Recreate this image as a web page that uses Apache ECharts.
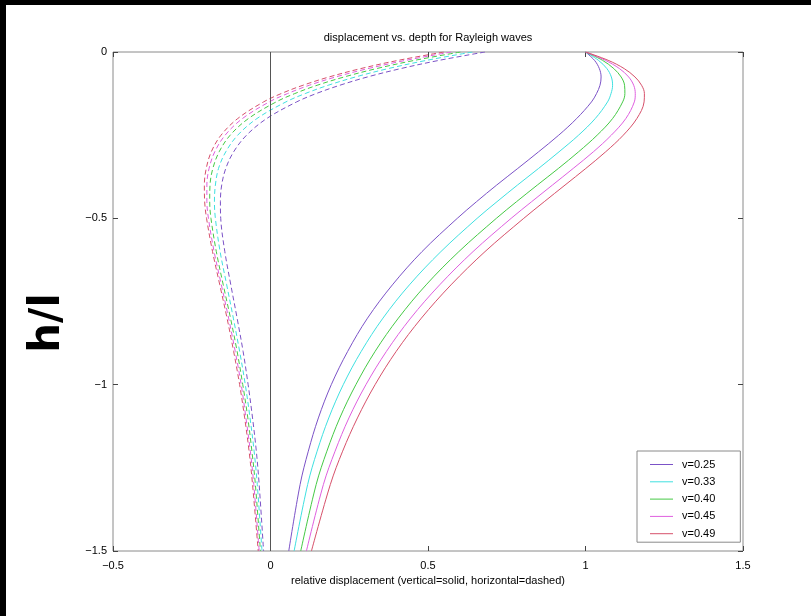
<!DOCTYPE html>
<html>
<head>
<meta charset="utf-8">
<script src="https://cdn.jsdelivr.net/npm/echarts@6/dist/echarts.min.js"></script>
<style>
  html, body { margin: 0; padding: 0; background: #000; width: 811px; height: 616px; overflow: hidden; }
  #chart { position: absolute; left: 6px; top: 5px; width: 805px; height: 611px; background: #fff; }
</style>
</head>
<body>
<div id="chart"></div>
<script>
// Depth below the surface as a fraction of wavelength (h/l), shared by every curve
const depth = [0, -0.025, -0.05, -0.075, -0.1, -0.125, -0.15, -0.2, -0.25, -0.3, -0.35, -0.4, -0.45, -0.5, -0.6, -0.7, -0.8, -0.9, -1.0, -1.1, -1.2, -1.3, -1.5];

// Poisson's ratio of each curve family
const poisson = ['v=0.25', 'v=0.33', 'v=0.40', 'v=0.45', 'v=0.49'];

// Vertical displacement (solid), normalised to 1 at the surface
const vert25 = [1, 1.0285, 1.044, 1.0495, 1.046, 1.035, 1.019, 0.972, 0.915, 0.851, 0.785, 0.718, 0.654, 0.593, 0.481, 0.387, 0.308, 0.245, 0.193, 0.152, 0.120, 0.094, 0.058];
const vert33 = [1, 1.041, 1.068, 1.082, 1.086, 1.081, 1.070, 1.031, 0.978, 0.916, 0.851, 0.784, 0.719, 0.656, 0.541, 0.441, 0.357, 0.288, 0.231, 0.185, 0.148, 0.118, 0.075];
const vert40 = [1, 1.054, 1.090, 1.113, 1.124, 1.125, 1.118, 1.086, 1.037, 0.978, 0.914, 0.847, 0.781, 0.717, 0.598, 0.494, 0.406, 0.332, 0.271, 0.220, 0.179, 0.145, 0.096];
const vert45 = [1, 1.063, 1.108, 1.137, 1.153, 1.158, 1.155, 1.128, 1.082, 1.025, 0.961, 0.895, 0.829, 0.764, 0.643, 0.537, 0.445, 0.368, 0.303, 0.249, 0.205, 0.168, 0.114];
const vert49 = [1, 1.072, 1.123, 1.157, 1.178, 1.187, 1.186, 1.163, 1.120, 1.064, 1.001, 0.935, 0.869, 0.804, 0.681, 0.573, 0.479, 0.399, 0.332, 0.276, 0.229, 0.190, 0.130];

// Horizontal displacement (dashed), same normalisation
const horiz25 = [0.681, 0.536, 0.413, 0.308, 0.220, 0.145, 0.083, -0.012, -0.076, -0.117, -0.142, -0.155, -0.159, -0.158, -0.145, -0.126, -0.106, -0.087, -0.071, -0.057, -0.045, -0.036, -0.022];
const horiz33 = [0.641, 0.496, 0.373, 0.270, 0.183, 0.110, 0.049, -0.043, -0.104, -0.142, -0.165, -0.175, -0.178, -0.175, -0.160, -0.139, -0.118, -0.098, -0.080, -0.065, -0.052, -0.042, -0.027];
const horiz40 = [0.603, 0.458, 0.336, 0.234, 0.148, 0.077, 0.018, -0.070, -0.128, -0.163, -0.183, -0.192, -0.193, -0.189, -0.172, -0.150, -0.127, -0.106, -0.088, -0.072, -0.059, -0.048, -0.032];
const horiz45 = [0.574, 0.430, 0.309, 0.207, 0.123, 0.054, -0.004, -0.089, -0.144, -0.177, -0.195, -0.202, -0.202, -0.197, -0.179, -0.156, -0.133, -0.112, -0.093, -0.078, -0.064, -0.053, -0.036];
const horiz49 = [0.550, 0.406, 0.286, 0.186, 0.103, 0.034, -0.022, -0.104, -0.157, -0.188, -0.204, -0.210, -0.209, -0.203, -0.184, -0.161, -0.138, -0.117, -0.098, -0.082, -0.068, -0.057, -0.039];

const xTicks = { min: -0.5, max: 1.5, interval: 0.5 };
const yTicks = { min: -1.5, max: 0, interval: 0.5 };

const colors = ['#7b52c7', '#3fe0e0', '#45c945', '#df5fdf', '#d6506a'];
const vertical = [vert25, vert33, vert40, vert45, vert49];
const horizontal = [horiz25, horiz33, horiz40, horiz45, horiz49];

const FONT = '"Liberation Sans", Arial, Helvetica, sans-serif';

function curve(name, values, color, dashed) {
  return {
    name: name,
    type: 'line',
    data: values.map((x, i) => [x, depth[i]]),
    smooth: 0.35,
    symbol: 'none',
    silent: true,
    lineStyle: { color: color, width: 1, type: dashed ? [5, 3] : 'solid' },
    itemStyle: { color: color }
  };
}

const series = [];
poisson.forEach((name, i) => series.push(curve(name, vertical[i], colors[i], false)));
poisson.forEach((name, i) => series.push(curve(name + ' horizontal', horizontal[i], colors[i], true)));

// zero-displacement reference line
series[0].markLine = {
  silent: true,
  symbol: ['none', 'none'],
  label: { show: false },
  lineStyle: { color: '#555', width: 1, type: 'solid' },
  data: [{ xAxis: 0 }]
};

const tickFmt = v => (v === 0 ? '0' : String(v).replace('-', '\u2212'));

const frameAxisCommon = {
  type: 'value',
  axisLine: { show: false, onZero: false },
  splitLine: { show: false },
  axisTick: { inside: true, length: 5, lineStyle: { color: '#444', width: 1 } }
};

const chart = echarts.init(document.getElementById('chart'), null, { renderer: 'canvas' });
chart.setOption({
  animation: false,
  backgroundColor: '#fff',
  title: {
    text: 'displacement vs. depth for Rayleigh waves',
    left: 417,
    textAlign: 'center',
    top: 22,
    textStyle: { fontSize: 11, fontWeight: 'normal', color: '#000', fontFamily: FONT }
  },
  grid: {
    left: 107, right: 68, top: 47, bottom: 65,
    show: true, borderColor: '#8a8a8a', borderWidth: 1, backgroundColor: '#fff'
  },
  legend: {
    data: poisson,
    orient: 'vertical',
    left: 631,
    top: 446,
    icon: 'rect',
    itemWidth: 23,
    itemHeight: 1,
    itemGap: 6.3,
    padding: [8, 25, 3, 13],
    borderColor: '#8a8a8a',
    borderWidth: 1,
    backgroundColor: '#fff',
    selectedMode: false,
    textStyle: { fontSize: 11, color: '#000', fontFamily: FONT, padding: [0, 0, 0, 4] }
  },
  xAxis: [
    Object.assign({}, frameAxisCommon, xTicks, {
      position: 'bottom',
      axisLabel: { margin: 9, fontSize: 11, color: '#000', fontFamily: FONT, formatter: tickFmt },
      name: 'relative displacement (vertical=solid, horizontal=dashed)',
      nameLocation: 'middle',
      nameGap: 24,
      nameTextStyle: { fontSize: 11, color: '#000', fontFamily: FONT }
    }),
    Object.assign({}, frameAxisCommon, xTicks, { position: 'top', axisLabel: { show: false } })
  ],
  yAxis: [
    Object.assign({}, frameAxisCommon, yTicks, {
      position: 'left',
      axisLabel: { margin: 6, fontSize: 11, color: '#000', fontFamily: FONT, formatter: tickFmt }
    }),
    Object.assign({}, frameAxisCommon, yTicks, { position: 'right', axisLabel: { show: false } })
  ],
  graphic: [{
    type: 'text',
    x: 42,
    y: 318,
    rotation: Math.PI / 2,
    silent: true,
    style: {
      text: 'h/l',
      fontSize: 42,
      fontWeight: 'bold',
      fontFamily: '"DejaVu Sans", sans-serif',
      fill: '#000',
      align: 'center',
      verticalAlign: 'middle'
    }
  }],
  series: series
});
</script>
</body>
</html>
